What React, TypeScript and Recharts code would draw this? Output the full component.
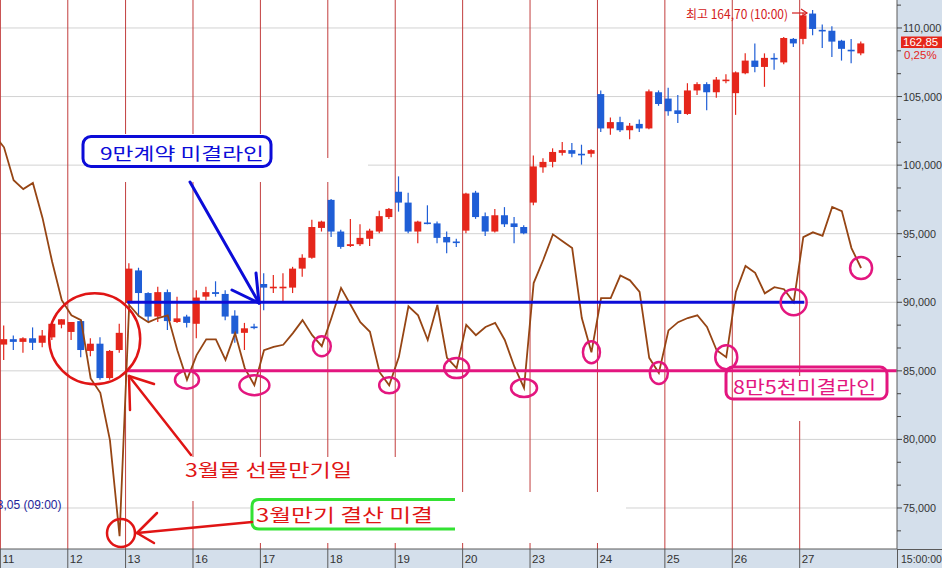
import React from 'react';
import { ComposedChart, Bar, Line, XAxis, YAxis, CartesianGrid, ReferenceLine, ReferenceDot } from 'recharts';

// ---- categories (trading days, hourly bars) ----
const dayLabels = ['11', '12', '13', '16', '17', '18', '19', '20', '23', '24', '25', '26', '27'];
const barsPerDay = [7, 6, 7, 7, 7, 7, 7, 7, 7, 7, 7, 7, 7];

// ---- KOSPI200 futures hourly candles ----
const opens = [
  146.20, 146.50, 146.35, 146.55, 146.30, 146.60, 147.30,
  146.90, 147.50, 145.85, 146.25, 144.35, 145.90,
  148.50, 150.30, 149.05, 147.75, 149.10, 147.45, 147.75,
  147.35, 148.85, 149.10, 149.00, 147.80, 146.85, 147.20,
  149.55, 149.35, 149.35, 149.35, 150.40, 151.00, 152.65,
  154.20, 152.45, 151.65, 151.75, 152.05, 152.45, 153.25,
  154.65, 154.05, 152.45, 152.95, 152.90, 152.15, 151.90,
  152.50, 154.60, 153.30, 152.45, 153.35, 152.90, 152.70,
  154.05, 156.00, 156.30, 156.80, 156.95, 156.75, 156.75,
  160.05, 158.15, 158.50, 158.05, 158.40, 158.15, 160.15,
  159.80, 159.15, 158.95, 160.25, 160.60, 160.15, 160.80,
  160.10, 161.20, 161.90, 161.55, 162.05, 161.80, 163.10,
  163.10, 164.50, 163.60, 163.55, 163.00, 162.50, 162.30,
];
const highs = [
  147.25, 146.70, 146.60, 147.15, 147.00, 147.45, 147.60,
  147.45, 147.55, 146.55, 146.60, 145.90, 147.35,
  150.70, 150.45, 149.10, 149.40, 149.25, 148.85, 147.85,
  149.20, 149.40, 149.70, 149.20, 148.10, 147.40, 147.35,
  150.15, 150.05, 150.15, 150.50, 151.20, 153.10, 153.05,
  154.25, 152.55, 153.15, 152.85, 152.60, 153.60, 153.75,
  155.50, 154.60, 153.05, 153.90, 153.00, 152.45, 152.05,
  154.60, 154.70, 153.50, 153.70, 153.80, 153.25, 152.80,
  156.65, 156.50, 157.05, 157.40, 157.35, 157.25, 157.00,
  160.25, 158.75, 158.80, 158.45, 158.65, 160.30, 160.25,
  160.40, 160.00, 160.65, 160.70, 160.70, 161.00, 161.15,
  161.30, 162.30, 162.85, 162.30, 162.30, 163.20, 163.15,
  164.55, 164.70, 163.90, 163.80, 163.05, 163.10, 162.95,
];
const lows = [
  145.35, 145.90, 145.75, 145.90, 146.05, 146.45, 147.10,
  146.45, 145.50, 145.55, 144.25, 144.25, 145.75,
  148.40, 147.75, 147.45, 147.45, 147.00, 147.40, 147.15,
  146.55, 148.65, 148.85, 147.55, 146.30, 145.90, 147.05,
  148.10, 149.05, 148.55, 149.05, 149.95, 150.95, 152.45,
  152.15, 151.50, 151.60, 151.65, 151.65, 152.35, 153.15,
  153.55, 152.35, 151.80, 152.85, 151.80, 151.25, 151.60,
  152.35, 153.15, 152.20, 152.40, 152.70, 151.80, 152.30,
  153.90, 155.70, 156.00, 156.65, 156.55, 156.15, 156.55,
  157.95, 157.80, 157.95, 157.55, 157.95, 158.10, 159.40,
  158.85, 158.45, 158.90, 160.00, 159.15, 159.85, 160.65,
  158.90, 161.15, 161.25, 160.45, 161.40, 161.70, 162.65,
  162.80, 163.30, 162.60, 162.10, 161.90, 161.75, 162.20,
];
const closes = [
  146.50, 146.35, 146.55, 146.30, 146.70, 147.35, 147.60,
  147.45, 145.90, 146.25, 144.35, 145.85, 146.85,
  150.40, 149.05, 147.75, 149.10, 147.50, 147.65, 147.40,
  148.80, 149.10, 149.00, 147.75, 146.80, 147.10, 147.15,
  149.35, 149.40, 149.40, 150.40, 151.00, 152.70, 153.00,
  152.45, 151.60, 151.75, 152.10, 152.50, 153.30, 153.70,
  154.05, 152.45, 153.00, 152.90, 152.10, 151.85, 151.85,
  154.55, 153.25, 152.45, 153.35, 152.85, 152.70, 152.35,
  156.05, 156.30, 156.85, 156.95, 156.75, 156.70, 156.95,
  158.15, 158.50, 158.05, 158.30, 158.15, 160.20, 159.50,
  159.10, 158.95, 160.25, 160.60, 160.15, 160.85, 160.85,
  161.25, 161.90, 161.55, 162.05, 162.00, 163.15, 162.85,
  164.40, 163.65, 163.55, 162.95, 162.55, 162.45, 162.85,
];

// ---- open interest (contracts); first value is the previous, off-screen bar ----
const openInterest = [
  102200,
  101300, 98900, 98250, 98700, 96150, 92950, 90150,
  89050, 88700, 84450, 83400, 79950, 72950,
  89800, 89000, 88550, 88850, 89050, 86500, 84350,
  86150, 87300, 87300, 85800, 87750, 85200, 83950,
  86500, 86750, 86900, 87750, 88700, 87600, 86800,
  88850, 91050, 89800, 88550, 87850, 84900, 83950,
  86000, 89700, 89050, 87250, 89800, 85950, 85200,
  88350, 87600, 88200, 88500, 87250, 85300, 83750,
  91400, 93100, 94950, 94450, 93950, 88850, 86350,
  90300, 90300, 91950, 91600, 90750, 85950, 84850,
  87950, 88550, 88850, 89050, 88200, 86500, 86000,
  90750, 92650, 92150, 90650, 91100, 90950, 90000,
  94750, 95100, 94850, 96950, 96650, 93950, 92500,
];

const oiMajorTicks = [75000, 80000, 85000, 90000, 95000, 100000, 105000, 110000];
const oiMinorTicks = oiMajorTicks.flatMap((m) => [m - 5000 / 3, m + 5000 / 3]);
const oiTicks = [...oiMajorTicks, ...oiMinorTicks].sort((a, b) => a - b);

// annotation levels
const blueLevel = 90000;
const pinkLevel = 85000;
const blueFrom = 12.8;
const blueTo = 83.1;
const pinkTo = 92.7;
const circleBars = [19, 26, 33, 40, 47, 54, 61, 68, 75, 82, 89];
const circleSizes = [[12, 9], [15, 10], [9, 10], [10, 8], [12.5, 10], [13, 9], [8.5, 11], [9, 11], [11, 12], [13, 13], [11, 11]];

// ---- derived table ----
const dayStarts = barsPerDay.reduce<number[]>((acc, n, k) => {
  acc.push(k === 0 ? 0 : acc[k - 1] + barsPerDay[k - 1]);
  return acc;
}, []);
const dayTicks = dayStarts.map((s) => s - 0.375);

const data = openInterest.map((v, k) => {
  const i = k - 1;
  const row: any = { i, oi: v };
  if (i >= 0) {
    row.o = opens[i];
    row.h = highs[i];
    row.l = lows[i];
    row.c = closes[i];
    row.range = [lows[i], highs[i]];
  }
  return row;
});

const RED = '#e5261b';
const BLUE = '#1f5ed6';
const BROWN = '#964514';
const ANNO_BLUE = '#0c0cd8';
const PINK = '#e3167f';
const ANNO_RED = '#e01515';
const GREEN = '#33e233';
const BAND = '#d4dfeb';
const AXIS_FONT = "'Liberation Sans', Arial, sans-serif";
const KR_FONT = "'Noto Sans CJK KR', 'Noto Sans', sans-serif";

const Candle = (props: any) => {
  const { x, y, width, height, payload } = props;
  if (!payload || payload.o == null || !isFinite(y) || !isFinite(height)) return null;
  const { o, h, l, c } = payload;
  const top = Math.min(y, y + height);
  const hh = Math.abs(height);
  const k = hh / (h - l);
  const yO = top + (h - o) * k;
  const yC = top + (h - c) * k;
  const color = c >= o ? RED : BLUE;
  const cx = x + width / 2;
  const bTop = Math.min(yO, yC);
  const bH = Math.max(Math.abs(yO - yC), 1.6);
  return (
    <g>
      <line x1={cx} x2={cx} y1={top} y2={top + hh} stroke={color} strokeWidth={1.2} />
      <rect x={x} y={bTop} width={width} height={bH} fill={color} />
    </g>
  );
};

const DayTick = (props: any) => {
  const { x, payload, index } = props;
  let idx = dayTicks.indexOf(payload.value);
  if (idx < 0) idx = index;
  return (
    <g>
      <line x1={x} x2={x} y1={549} y2={568} stroke="#5a5a5a" strokeWidth={1} />
      <text x={x + 2} y={558.5} dominantBaseline="central" fontSize={11.5} fontFamily={AXIS_FONT} fill="#333">
        {dayLabels[idx]}
      </text>
    </g>
  );
};

const OiTick = (props: any) => {
  const { y, payload } = props;
  const v = payload.value;
  const major = oiMajorTicks.includes(v);
  return (
    <g>
      <line x1={897} x2={major ? 902 : 901} y1={y} y2={y} stroke="#444" strokeWidth={1} />
      {major && (
        <text x={903} y={y} dominantBaseline="central" fontSize={10.8} fontFamily={AXIS_FONT} fill="#333">
          {v.toLocaleString('en-US')}
        </text>
      )}
    </g>
  );
};

const Overlay = () => (
  <svg width={942} height={568} style={{ position: 'absolute', left: 0, top: 0, pointerEvents: 'none' }}>
    {/* white erased areas */}
    <g fill="#fff">
      <rect x={100} y={134} width={172} height={48} />
      <rect x={270} y={158} width={98} height={24} />
      <rect x={182} y={457} width={258} height={44} />
      <rect x={250} y={492} width={376} height={51} />
      <rect x={796} y={376} width={7} height={45} />
    </g>
    {/* right/bottom band corner lines */}
    <line x1={897} x2={942} y1={549.5} y2={549.5} stroke="#5a5a5a" />
    <line x1={897.5} x2={897.5} y1={549} y2={568} stroke="#5a5a5a" />
    <text x={901} y={558.5} dominantBaseline="central" fontSize={10.5} fontFamily={AXIS_FONT} fill="#333">15:00:00</text>

    {/* blue annotation */}
    <rect x={83} y={136.5} width={188} height={30} rx={8} fill="#fff" stroke={ANNO_BLUE} strokeWidth={3} />
    <text x={100} y={152} dominantBaseline="central" fontSize={17} fontFamily={KR_FONT} fill={ANNO_BLUE} textLength={164} lengthAdjust="spacingAndGlyphs">
      9만계약  미결라인
    </text>
    <g stroke={ANNO_BLUE} strokeWidth={3} strokeLinecap="round" fill="none">
      <line x1={190} y1={182} x2={259} y2={303} />
      <line x1={232} y1={290} x2={259} y2={303} />
      <line x1={256} y1={273} x2={259} y2={303} />
    </g>

    {/* pink annotation */}
    <rect x={726} y={367} width={161} height={32} rx={7} fill="none" stroke={PINK} strokeWidth={3} />
    <text x={733} y={385.5} dominantBaseline="central" fontSize={18} fontFamily={KR_FONT} fill={PINK} textLength={143} lengthAdjust="spacingAndGlyphs">
      8만5천미결라인
    </text>

    {/* red annotations */}
    <circle cx={94.7} cy={338.7} r={45.5} fill="none" stroke={ANNO_RED} strokeWidth={2.5} />
    <g stroke={ANNO_RED} strokeWidth={2.5} strokeLinecap="round" fill="none">
      <line x1={191} y1={455} x2={129} y2={376} />
      <line x1={129} y1={376} x2={154} y2={384} />
      <line x1={129} y1={376} x2={130} y2={410} />
    </g>
    <text x={185} y={469} dominantBaseline="central" fontSize={18} fontFamily={KR_FONT} fill={ANNO_RED} textLength={167} lengthAdjust="spacingAndGlyphs">
      3월물  선물만기일
    </text>

    <path d="M455 499.5 H259 Q252 499.5 252 506.5 V522 Q252 529 259 529 H455" fill="#fff" stroke={GREEN} strokeWidth={3} />
    <text x={256} y={513.5} dominantBaseline="central" fontSize={18} fontFamily={KR_FONT} fill={ANNO_RED} textLength={177} lengthAdjust="spacingAndGlyphs">
      3월만기  결산  미결
    </text>
    <g stroke={ANNO_RED} strokeWidth={2.5} strokeLinecap="round" fill="none">
      <line x1={252} y1={522} x2={137} y2={533} />
      <line x1={137} y1={533} x2={157} y2={513} />
      <line x1={137} y1={533} x2={154} y2={543} />
    </g>
    <circle cx={121} cy={533} r={14} fill="none" stroke={ANNO_RED} strokeWidth={2.5} />

    {/* high / current / low labels */}
    <text x={686} y={13} dominantBaseline="central" fontSize={12.5} fontFamily={KR_FONT} fill="#d42020" textLength={102} lengthAdjust="spacingAndGlyphs">
      최고 164,70 (10:00)
    </text>
    <g stroke="#d42020" strokeWidth={1.2} fill="none">
      <line x1={792} y1={13} x2={807} y2={13} />
      <polyline points="801,9 807,13 801,17" />
    </g>
    <rect x={901} y={36.5} width={41} height={11.5} fill={RED} />
    <text x={903} y={42.3} dominantBaseline="central" fontSize={11.5} fontFamily={AXIS_FONT} fill="#fff">162,85</text>
    <text x={904} y={55} dominantBaseline="central" fontSize={11.5} fontFamily={AXIS_FONT} fill={RED}>0,25%</text>
    <text x={61.5} y={505} dominantBaseline="central" textAnchor="end" fontSize={12} fontFamily={AXIS_FONT} fill="#23239a">
      143,05 (09:00)
    </text>
  </svg>
);

export default function App() {
  return (
    <div style={{ position: 'absolute', left: 0, top: 0, width: 942, height: 568, overflow: 'hidden', background: '#fff' }}>
      <svg width={942} height={568} style={{ position: 'absolute', left: 0, top: 0 }}>
        <rect x={0} y={0} width={942} height={568} fill="#fff" />
        <rect x={897} y={0} width={45} height={568} fill={BAND} />
        <rect x={0} y={549} width={942} height={19} fill={BAND} />
      </svg>
      <div style={{ position: 'absolute', left: 0, top: 0 }}>
        <ComposedChart width={942} height={568} data={data} margin={{ top: 0, right: 0, bottom: 0, left: 0 }}>
          <CartesianGrid yAxisId="oi" vertical={false} horizontalValues={oiMajorTicks} stroke="#d2d2d2" />
          <CartesianGrid yAxisId="oi" horizontal={false} verticalValues={dayTicks} stroke="#c23e3e" />
          <XAxis
            type="number"
            dataKey="i"
            domain={[-0.415, 92.73]}
            allowDataOverflow
            ticks={dayTicks}
            interval={0}
            height={19}
            tickLine={false}
            axisLine={{ stroke: '#5a5a5a' }}
            tick={DayTick}
          />
          <YAxis
            yAxisId="oi"
            orientation="right"
            type="number"
            domain={[72010, 112040]}
            allowDataOverflow
            ticks={oiTicks}
            interval={0}
            width={45}
            tickLine={false}
            tickSize={0}
            tickMargin={0}
            axisLine={{ stroke: '#5a5a5a' }}
            tick={OiTick}
          />
          <YAxis yAxisId="px" hide type="number" domain={[134.9, 165.25]} allowDataOverflow />
          <Bar yAxisId="px" dataKey="range" barSize={7} shape={Candle} isAnimationActive={false} />
          <Line yAxisId="oi" type="linear" dataKey="oi" stroke={BROWN} strokeWidth={1.8} dot={false} activeDot={false} isAnimationActive={false} />
          <ReferenceLine yAxisId="oi" segment={[{ x: blueFrom, y: blueLevel }, { x: blueTo, y: blueLevel }]} stroke={ANNO_BLUE} strokeWidth={3} />
          <ReferenceLine yAxisId="oi" segment={[{ x: blueFrom, y: pinkLevel }, { x: pinkTo, y: pinkLevel }]} stroke={PINK} strokeWidth={3} />
          {circleBars.map((b, k) => (
            <ReferenceDot
              key={b}
              yAxisId="oi"
              x={b}
              y={openInterest[b + 1]}
              r={10}
              shape={(p: any) => (
                <ellipse cx={p.cx} cy={p.cy} rx={circleSizes[k][0]} ry={circleSizes[k][1]} fill="none" stroke={PINK} strokeWidth={2.5} />
              )}
            />
          ))}
        </ComposedChart>
      </div>
      <Overlay />
    </div>
  );
}
